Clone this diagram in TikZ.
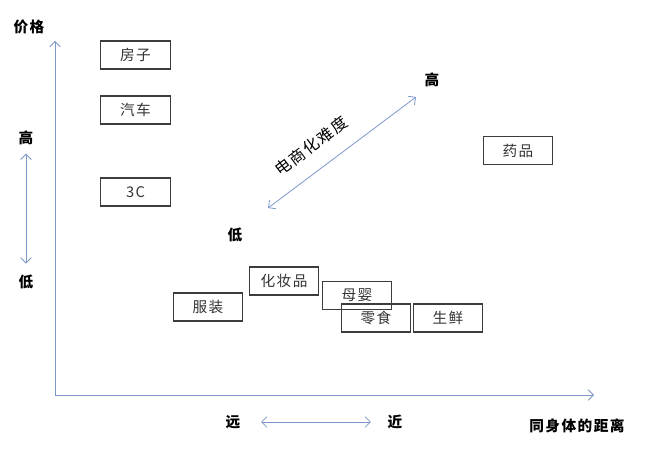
\documentclass[tikz,border=0pt]{standalone}
\usepackage{fontspec}
\newfontfamily\cjk{Noto Sans CJK SC}
\newfontfamily\cjkwide[LetterSpace=10]{Noto Sans CJK SC}
\usetikzlibrary{arrows.meta,positioning}
\definecolor{axisblue}{RGB}{125,152,200}
\definecolor{boxline}{RGB}{60,60,60}

\begin{document}
\begin{tikzpicture}[x=0.75pt,y=-0.75pt,
  item/.style={rectangle,draw=boxline,line width=0.9pt,minimum width=52pt,minimum height=21pt,inner sep=0pt,font=\cjkwide\fontsize{11}{12}\selectfont,text=black!80},
  lbl/.style={font=\cjkwide\bfseries\fontsize{11}{12}\selectfont},
  axis/.style={-{Straight Barb[length=4pt]},draw=axisblue,line width=0.6pt},
  both/.style={{Straight Barb[length=4pt]}-{Straight Barb[length=4pt]},draw=axisblue,line width=0.6pt}]
\useasboundingbox (0,0) rectangle (645,449);
% axes
\coordinate (o) at (55,395);
\coordinate (ytop) at (55,41);
\coordinate (xend) at (594,395);
\draw[axis] (o) -- (ytop);
\draw[axis] (o) -- (xend);
\node[lbl] (price) at (29,27) {价格};
\node[lbl] (dist) at (577,426) {同身体的距离};
% price scale
\node[lbl] (hi) at (26,138) {高};
\node[lbl] (lo) at (26,282) {低};
\draw[both,shorten <=3pt,shorten >=5pt] (hi.south) -- (lo.north);
% distance scale
\node[lbl] (far) at (233,422) {远};
\node[lbl] (near) at (395,422) {近};
\draw[both,shorten <=12pt,shorten >=9pt] (far.east) -- (near.west);
% difficulty
\node[lbl] (dhi) at (432,80) {高};
\node[lbl] (dlo) at (235,235) {低};
\coordinate (d1) at (268,208);
\coordinate (d2) at (416,97);
\draw[both] (d1) -- (d2);
\node[rotate=37,inner sep=1pt,font=\cjkwide\fontsize{12}{12}\selectfont] (diff) at (311,146) {电商化难度};
% goods
\node[item] (house) at (135.5,55) {房子};
\node[item] (car) at (135.5,110) {汽车};
\node[item] (tech) at (135.5,192) {3C};
\node[item] (drug) at (518,150.5) {药品};
\node[item] (cloth) at (208,307) {服装};
\node[item] (cosm) at (284,281) {化妆品};
\node[item] (baby) at (357,295.5) {母婴};
\node[item] (snack) at (376,318) {零食};
\node[item] (fresh) at (448,318) {生鲜};
\end{tikzpicture}
\end{document}
